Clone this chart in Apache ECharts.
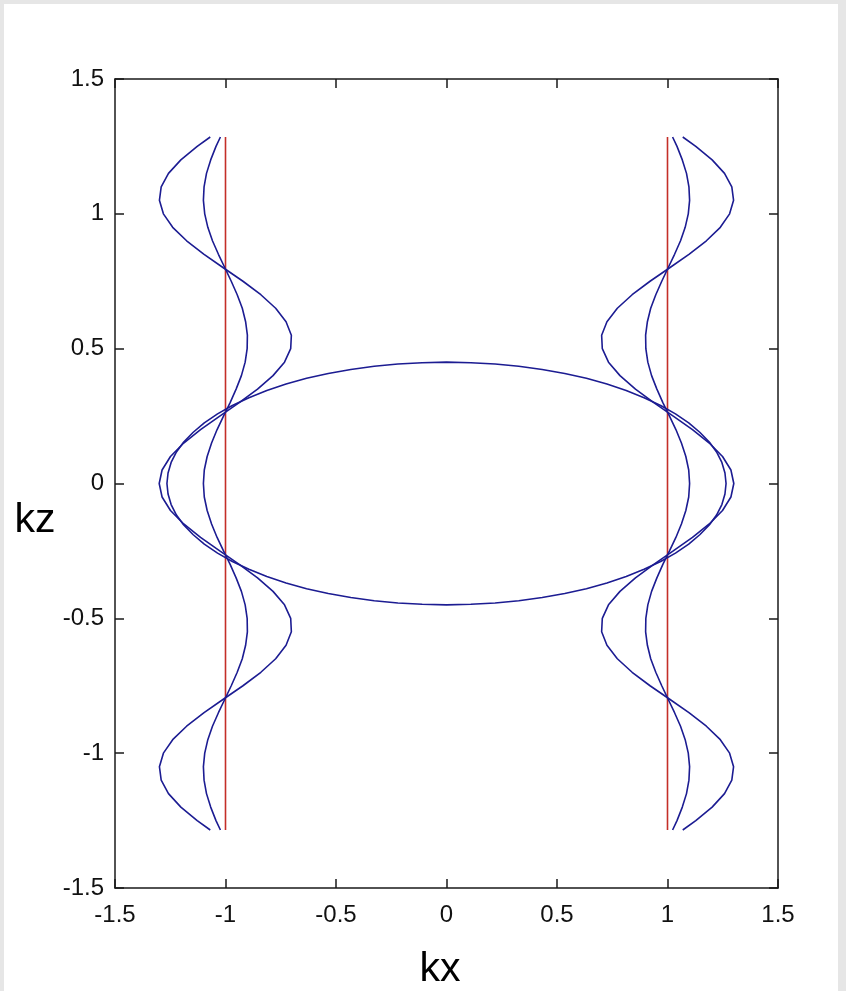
<!DOCTYPE html>
<html>
<head>
<meta charset="utf-8">
<script src="https://cdn.jsdelivr.net/npm/echarts@6/dist/echarts.min.js"></script>
<style>
  html, body { margin: 0; padding: 0; background: #e6e6e6; }
  #sheet { position: absolute; left: 4px; top: 4px; width: 834px; height: 987px; background: #ffffff; }
  #chart { position: absolute; left: 0; top: 0; width: 846px; height: 991px; }
</style>
</head>
<body>
<div id="sheet"></div>
<div id="chart"></div>
<script>
// Sample heights (kz) shared by the four wavy contours
const kzSamples = [-1.285,-1.25,-1.2,-1.15,-1.1,-1.05,-1,-0.95,-0.9,-0.85,-0.8,-0.75,-0.7,-0.65,-0.6,-0.55,-0.5,-0.45,-0.4,-0.35,-0.3,-0.25,-0.2,-0.15,-0.1,-0.05,0,0.05,0.1,0.15,0.2,0.25,0.3,0.35,0.4,0.45,0.5,0.55,0.6,0.65,0.7,0.75,0.8,0.85,0.9,0.95,1,1.05,1.1,1.15,1.2,1.25,1.285];

// Left wide contour (kx)
const leftWideKx = [-1.069,-1.128,-1.202,-1.258,-1.291,-1.299,-1.281,-1.239,-1.176,-1.097,-1.010,-0.921,-0.840,-0.773,-0.726,-0.702,-0.705,-0.733,-0.785,-0.855,-0.938,-1.026,-1.113,-1.189,-1.249,-1.287,-1.300,-1.287,-1.249,-1.189,-1.113,-1.026,-0.938,-0.855,-0.785,-0.733,-0.705,-0.702,-0.726,-0.773,-0.840,-0.921,-1.010,-1.097,-1.176,-1.239,-1.281,-1.299,-1.291,-1.258,-1.202,-1.128,-1.069];
// Left narrow contour (kx)
const leftNarrowKx = [-1.023,-1.043,-1.067,-1.086,-1.097,-1.100,-1.094,-1.080,-1.059,-1.032,-1.003,-0.974,-0.947,-0.924,-0.909,-0.901,-0.902,-0.911,-0.928,-0.952,-0.979,-1.009,-1.038,-1.063,-1.083,-1.096,-1.100,-1.096,-1.083,-1.063,-1.038,-1.009,-0.979,-0.952,-0.928,-0.911,-0.902,-0.901,-0.909,-0.924,-0.947,-0.974,-1.003,-1.032,-1.059,-1.080,-1.094,-1.100,-1.097,-1.086,-1.067,-1.043,-1.023];
// Right wide contour (kx)
const rightWideKx = [1.069,1.128,1.202,1.258,1.291,1.299,1.281,1.239,1.176,1.097,1.010,0.921,0.840,0.773,0.726,0.702,0.705,0.733,0.785,0.855,0.938,1.026,1.113,1.189,1.249,1.287,1.300,1.287,1.249,1.189,1.113,1.026,0.938,0.855,0.785,0.733,0.705,0.702,0.726,0.773,0.840,0.921,1.010,1.097,1.176,1.239,1.281,1.299,1.291,1.258,1.202,1.128,1.069];
// Right narrow contour (kx)
const rightNarrowKx = [1.023,1.043,1.067,1.086,1.097,1.100,1.094,1.080,1.059,1.032,1.003,0.974,0.947,0.924,0.909,0.901,0.902,0.911,0.928,0.952,0.979,1.009,1.038,1.063,1.083,1.096,1.100,1.096,1.083,1.063,1.038,1.009,0.979,0.952,0.928,0.911,0.902,0.901,0.909,0.924,0.947,0.974,1.003,1.032,1.059,1.080,1.094,1.100,1.097,1.086,1.067,1.043,1.023];

// Central closed contour
const ovalKx = [1.265,1.260,1.246,1.222,1.189,1.146,1.096,1.036,0.969,0.894,0.813,0.726,0.633,0.535,0.433,0.327,0.220,0.110,0,
  -0.110,-0.220,-0.327,-0.433,-0.535,-0.633,-0.726,-0.813,-0.894,-0.969,-1.036,-1.096,-1.146,-1.189,-1.222,-1.246,-1.260,-1.265,
  -1.260,-1.246,-1.222,-1.189,-1.146,-1.096,-1.036,-0.969,-0.894,-0.813,-0.726,-0.633,-0.535,-0.433,-0.327,-0.220,-0.110,0,
  0.110,0.220,0.327,0.433,0.535,0.633,0.726,0.813,0.894,0.969,1.036,1.096,1.146,1.189,1.222,1.246,1.260,1.265];
const ovalKz = [0,0.039,0.078,0.117,0.154,0.190,0.225,0.258,0.289,0.318,0.345,0.369,0.390,0.408,0.423,0.435,0.443,0.448,0.45,
  0.448,0.443,0.435,0.423,0.408,0.390,0.369,0.345,0.318,0.289,0.258,0.225,0.190,0.154,0.117,0.078,0.039,0,
  -0.039,-0.078,-0.117,-0.154,-0.190,-0.225,-0.258,-0.289,-0.318,-0.345,-0.369,-0.390,-0.408,-0.423,-0.435,-0.443,-0.448,-0.45,
  -0.448,-0.443,-0.435,-0.423,-0.408,-0.390,-0.369,-0.345,-0.318,-0.289,-0.258,-0.225,-0.190,-0.154,-0.117,-0.078,-0.039,0];

// Vertical reference lines at kx = ±1
const refLineKz = [-1.285, 1.285];
const leftRefKx = [-1, -1];
const rightRefKx = [1, 1];

const xTickLabels = ['-1.5','-1','-0.5','0','0.5','1','1.5'];
const yTickLabels = ['-1.5','-1','-0.5','0','0.5','1','1.5'];

const pairs = (xs, ys) => xs.map((x, i) => [x, ys[i]]);

const BLUE = '#1c1c92';
const RED = '#c42e28';
const AXIS = '#1a1a1a';
const tickFont = { fontSize: 24, fontFamily: '"Liberation Sans", Arial, sans-serif', color: '#111' };

const axisCommon = {
  type: 'value', min: -1.5, max: 1.5, interval: 0.5,
  axisLine: { show: true, onZero: false, lineStyle: { color: AXIS, width: 1.5 } },
  axisTick: { show: true, inside: true, length: 9, lineStyle: { color: AXIS, width: 1.5 } },
  splitLine: { show: false }
};

function lineSeries(data, color) {
  return {
    type: 'line', data: data, showSymbol: false, symbol: 'none',
    lineStyle: { color: color, width: 1.6 }, silent: true, animation: false
  };
}

const chart = echarts.init(document.getElementById('chart'));
chart.setOption({
  backgroundColor: 'transparent',
  animation: false,
  grid: { left: 115, right: 68, top: 79, bottom: 103 },
  xAxis: [
    Object.assign({}, axisCommon, { position: 'bottom',
      axisLabel: Object.assign({ margin: 15, formatter: (v, i) => xTickLabels[i] }, tickFont) }),
    Object.assign({}, axisCommon, { position: 'top', axisLabel: { show: false } })
  ],
  yAxis: [
    Object.assign({}, axisCommon, { position: 'left',
      axisLabel: Object.assign({ margin: 11, formatter: (v, i) => yTickLabels[i] }, tickFont) }),
    Object.assign({}, axisCommon, { position: 'right', axisLabel: { show: false } })
  ],
  series: [
    lineSeries(pairs(leftRefKx, refLineKz), RED),
    lineSeries(pairs(rightRefKx, refLineKz), RED),
    lineSeries(pairs(leftWideKx, kzSamples), BLUE),
    lineSeries(pairs(leftNarrowKx, kzSamples), BLUE),
    lineSeries(pairs(rightWideKx, kzSamples), BLUE),
    lineSeries(pairs(rightNarrowKx, kzSamples), BLUE),
    lineSeries(pairs(ovalKx, ovalKz), BLUE)
  ],
  graphic: [
    { type: 'text', x: 440, y: 970, style: { text: 'kx', font: '41px "Liberation Sans", Arial, sans-serif', fill: '#000', align: 'center', verticalAlign: 'middle' } },
    { type: 'text', x: 35, y: 521, style: { text: 'kz', font: '41px "Liberation Sans", Arial, sans-serif', fill: '#000', align: 'center', verticalAlign: 'middle' } }
  ]
});
</script>
</body>
</html>
